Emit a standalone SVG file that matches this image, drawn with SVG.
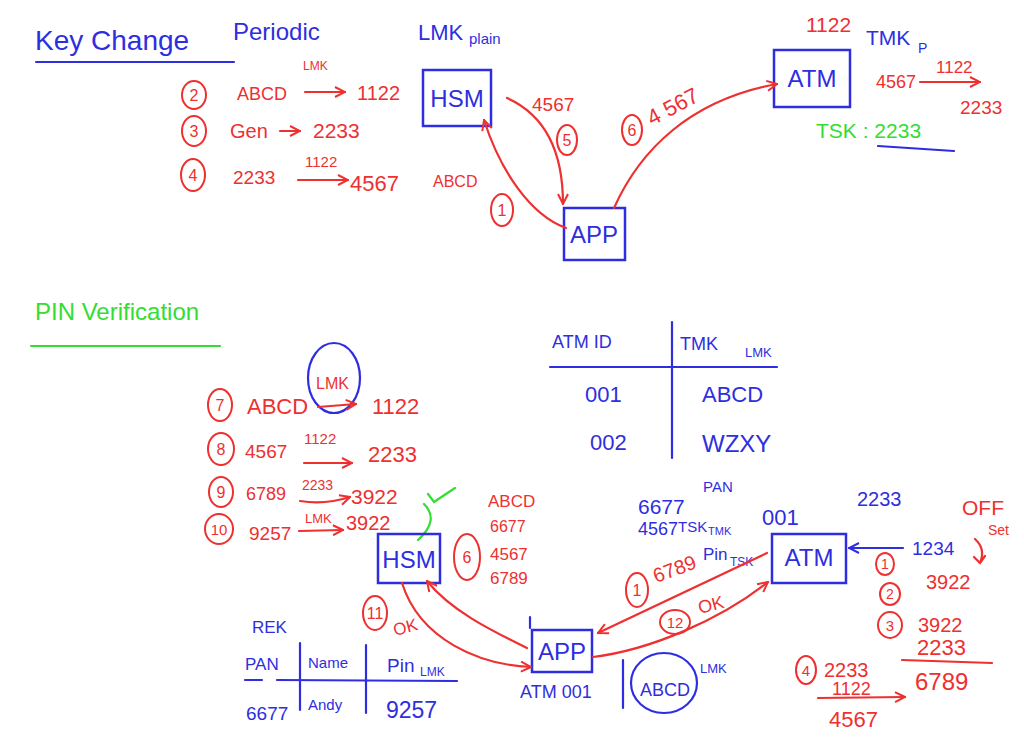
<svg xmlns="http://www.w3.org/2000/svg" width="1024" height="746" viewBox="0 0 1024 746">
<style>
text{font-family:"Liberation Sans","DejaVu Sans",sans-serif}
.b{fill:#2e2ee0}
.r{fill:#ee3030}
.g{fill:#33dd33}
.box{fill:none;stroke:#2e2ee0;stroke-width:2.5}
.rl{fill:none;stroke:#ee3030;stroke-width:2.2;stroke-linecap:round}
.bl{fill:none;stroke:#2e2ee0;stroke-width:2.2;stroke-linecap:round}
.gl{fill:none;stroke:#33dd33;stroke-width:2.2;stroke-linecap:round}
.cn{fill:none;stroke:#ee3030;stroke-width:2}
.nl{font-size:24px;text-anchor:middle}
.m{text-anchor:middle}
</style>
<defs>
<marker id="ar" viewBox="0 0 12 12" refX="11" refY="6" markerWidth="12" markerHeight="12" markerUnits="userSpaceOnUse" orient="auto"><path d="M1,1 L11,6 L1,11" fill="none" stroke="#ee3030" stroke-width="2"/></marker>
<marker id="ab" viewBox="0 0 12 12" refX="11" refY="6" markerWidth="12" markerHeight="12" markerUnits="userSpaceOnUse" orient="auto"><path d="M1,1 L11,6 L1,11" fill="none" stroke="#2e2ee0" stroke-width="2"/></marker>
</defs>
<rect width="1024" height="746" fill="#ffffff"/>

<!-- Titles -->
<g id="titles">
<text x="35" y="50" class="b" font-size="28">Key Change</text>
<path d="M36,62 L234,62" class="bl"/>
<text x="233" y="40" class="b" font-size="24">Periodic</text>
<text x="35" y="320" class="g" font-size="24">PIN Verification</text>
<path d="M31,346 L220,346" class="gl"/>
</g>

<!-- Top section nodes -->
<g id="hsm-top">
<rect x="423" y="70" width="68" height="56" class="box"/>
<text x="457" y="107" class="b nl">HSM</text>
<text x="418" y="40" class="b" font-size="22">LMK</text>
<text x="469" y="44" class="b" font-size="15">plain</text>
</g>
<g id="app-top">
<rect x="564" y="208" width="61" height="52" class="box"/>
<text x="594" y="243" class="b nl">APP</text>
</g>
<g id="atm-top">
<rect x="774" y="50" width="76" height="57" class="box"/>
<text x="812" y="87" class="b nl">ATM</text>
<text x="806" y="32" class="r" font-size="21">1122</text>
<text x="866" y="45" class="b" font-size="21">TMK</text>
<text x="918" y="53" class="b" font-size="14">P</text>
<text x="876" y="88" class="r" font-size="18">4567</text>
<text x="936" y="73" class="r" font-size="17">1122</text>
<text x="960" y="114" class="r" font-size="19">2233</text>
<text x="816" y="138" class="g" font-size="21">TSK : 2233</text>
<path d="M878,146 L954,151" class="bl"/>
</g>

<!-- Top section annotations -->
<g id="top-steps">
<text x="303" y="70" class="r" font-size="12">LMK</text>
<ellipse cx="194" cy="95" rx="12" ry="14" class="cn"/><text x="194" y="101" class="r m" font-size="16">2</text>
<text x="237" y="100" class="r" font-size="18">ABCD</text>
<text x="357" y="100" class="r" font-size="20">1122</text>
<ellipse cx="194" cy="131" rx="12" ry="15" class="cn"/><text x="194" y="137" class="r m" font-size="16">3</text>
<text x="230" y="138" class="r" font-size="20">Gen</text>
<text x="313" y="138" class="r" font-size="21">2233</text>
<ellipse cx="193" cy="175" rx="12" ry="16" class="cn"/><text x="193" y="181" class="r m" font-size="16">4</text>
<text x="233" y="184" class="r" font-size="19">2233</text>
<text x="305" y="167" class="r" font-size="15">1122</text>
<text x="350" y="191" class="r" font-size="22">4567</text>
<text x="433" y="187" class="r" font-size="16">ABCD</text>
<text x="532" y="111" class="r" font-size="19">4567</text>
<ellipse cx="567" cy="140" rx="10" ry="15" class="cn"/><text x="567" y="146" class="r m" font-size="16">5</text>
<ellipse cx="502" cy="210" rx="11" ry="16" class="cn"/><text x="502" y="216" class="r m" font-size="16">1</text>
<ellipse cx="632" cy="130" rx="10" ry="15" class="cn"/><text x="632" y="136" class="r m" font-size="16">6</text>
<text x="652" y="126" class="r" font-size="22" transform="rotate(-28 652 126)">4 567</text>
<path d="M305,92 L345,92" class="rl" marker-end="url(#ar)"/>
<path d="M280,131 L300,131" class="rl" marker-end="url(#ar)"/>
<path d="M298,180 L348,180" class="rl" marker-end="url(#ar)"/>
<path d="M920,82 L980,82" class="rl" marker-end="url(#ar)"/>
</g>

<!-- Top section connectors -->
<g id="connectors-top">
<path d="M566,228 C530,215 500,170 484,120" class="rl" marker-end="url(#ar)"/>
<path d="M507,98 C545,115 563,150 563,204" class="rl" marker-end="url(#ar)"/>
<path d="M614,208 C640,150 690,100 777,84" class="rl" marker-end="url(#ar)"/>
</g>

<!-- ATM ID table -->
<g id="tmk-table">
<text x="552" y="348" class="b" font-size="18">ATM ID</text>
<text x="680" y="350" class="b" font-size="18">TMK</text>
<text x="745" y="357" class="b" font-size="13">LMK</text>
<path d="M672,322 L672,458" class="bl"/>
<path d="M550,367 L777,367" class="bl"/>
<text x="585" y="402" class="b" font-size="22">001</text>
<text x="702" y="402" class="b" font-size="22">ABCD</text>
<text x="590" y="450" class="b" font-size="22">002</text>
<text x="702" y="452" class="b" font-size="24">WZXY</text>
</g>

<!-- Bottom steps -->
<g id="bottom-steps">
<ellipse cx="334" cy="378" rx="26" ry="35" class="bl"/>
<text x="316" y="389" class="r" font-size="16">LMK</text>
<ellipse cx="220" cy="405" rx="12" ry="16" class="cn"/><text x="220" y="411" class="r m" font-size="16">7</text>
<text x="247" y="414" class="r" font-size="22">ABCD</text>
<text x="372" y="414" class="r" font-size="22">1122</text>
<path d="M318,407 L356,404" class="rl" marker-end="url(#ar)"/>
<ellipse cx="221" cy="449" rx="13" ry="16" class="cn"/><text x="221" y="455" class="r m" font-size="16">8</text>
<text x="245" y="458" class="r" font-size="19">4567</text>
<text x="304" y="444" class="r" font-size="15">1122</text>
<path d="M304,463 L352,463" class="rl" marker-end="url(#ar)"/>
<text x="368" y="462" class="r" font-size="22">2233</text>
<ellipse cx="221" cy="492" rx="12" ry="15" class="cn"/><text x="221" y="498" class="r m" font-size="16">9</text>
<text x="246" y="500" class="r" font-size="18">6789</text>
<text x="302" y="490" class="r" font-size="14">2233</text>
<path d="M300,501 Q325,505 350,497" class="rl" marker-end="url(#ar)"/>
<text x="351" y="504" class="r" font-size="21">3922</text>
<path d="M424,504 Q440,520 418,540" class="gl"/>
<path d="M428,494 L434,502 L455,488" class="gl"/>
<ellipse cx="219" cy="529" rx="14" ry="15" class="cn"/><text x="219" y="535" class="r m" font-size="15">10</text>
<text x="249" y="540" class="r" font-size="19">9257</text>
<text x="305" y="523" class="r" font-size="13">LMK</text>
<path d="M299,531 L343,530" class="rl" marker-end="url(#ar)"/>
<text x="346" y="530" class="r" font-size="20">3922</text>
<text x="488" y="507" class="r" font-size="17">ABCD</text>
<text x="490" y="532" class="r" font-size="16">6677</text>
<text x="490" y="560" class="r" font-size="17">4567</text>
<text x="490" y="584" class="r" font-size="17">6789</text>
<ellipse cx="467" cy="557" rx="13" ry="23" class="cn"/><text x="467" y="563" class="r m" font-size="16">6</text>
<ellipse cx="375" cy="613" rx="12" ry="17" class="cn"/><text x="375" y="619" class="r m" font-size="16">11</text>
<text x="395" y="636" class="r" font-size="17" transform="rotate(-15 395 636)">OK</text>
<ellipse cx="637" cy="590" rx="11" ry="17" class="cn"/><text x="637" y="596" class="r m" font-size="16">1</text>
<text x="656" y="583" class="r" font-size="20" transform="rotate(-20 656 583)">6789</text>
<text x="703" y="560" class="b" font-size="17">Pin</text>
<text x="730" y="566" class="b" font-size="12">TSK</text>
<ellipse cx="675" cy="622" rx="15" ry="12" class="cn"/><text x="675" y="628" class="r m" font-size="15">12</text>
<text x="700" y="614" class="r" font-size="18" transform="rotate(-15 700 614)">OK</text>
</g>

<!-- Bottom nodes -->
<g id="hsm-bottom">
<rect x="378" y="534" width="62" height="49" class="box"/>
<text x="409" y="568" class="b nl">HSM</text>
</g>
<g id="app-bottom">
<rect x="532" y="630" width="60" height="42" class="box"/>
<text x="562" y="660" class="b nl">APP</text>
<path d="M530,617 L530,628" class="bl"/>
<text x="520" y="698" class="b" font-size="18">ATM 001</text>
<path d="M623,660 L623,708" class="bl"/>
<ellipse cx="664" cy="683" rx="33" ry="30" class="bl"/>
<text x="640" y="696" class="b" font-size="18">ABCD</text>
<text x="700" y="673" class="b" font-size="13">LMK</text>
</g>
<g id="atm-bottom">
<rect x="772" y="534" width="74" height="49" class="box"/>
<text x="809" y="566" class="b nl">ATM</text>
<text x="638" y="514" class="b" font-size="21">6677</text>
<text x="703" y="492" class="b" font-size="15">PAN</text>
<text x="638" y="535" class="b" font-size="18">4567</text>
<text x="678" y="532" class="b" font-size="15">TSK</text>
<text x="708" y="535" class="b" font-size="11">TMK</text>
<text x="762" y="525" class="b" font-size="22">001</text>
<text x="857" y="506" class="b" font-size="20">2233</text>
<text x="912" y="555" class="b" font-size="19">1234</text>
<text x="962" y="515" class="r" font-size="21">OFF</text>
<text x="988" y="535" class="r" font-size="14">Set</text>
</g>

<!-- Offset calculation -->
<g id="offset-calc">
<path d="M975,539 Q986,549 980,563 M974,557 L980,563 L985,556" class="rl"/>
<ellipse cx="885" cy="564" rx="9" ry="11" class="cn"/><text x="885" y="569" class="r m" font-size="14">1</text>
<text x="926" y="589" class="r" font-size="20">3922</text>
<ellipse cx="890" cy="594" rx="10" ry="11" class="cn"/><text x="890" y="599" class="r m" font-size="14">2</text>
<ellipse cx="890" cy="625" rx="12" ry="13" class="cn"/><text x="890" y="631" class="r m" font-size="15">3</text>
<text x="918" y="632" class="r" font-size="20">3922</text>
<text x="917" y="655" class="r" font-size="22">2233</text>
<path d="M902,660 L992,663" class="rl"/>
<text x="915" y="690" class="r" font-size="24">6789</text>
<ellipse cx="806" cy="670" rx="10" ry="14" class="cn"/><text x="806" y="676" class="r m" font-size="15">4</text>
<text x="824" y="677" class="r" font-size="20">2233</text>
<text x="832" y="695" class="r" font-size="18">1122</text>
<path d="M818,698 L905,697" class="rl" marker-end="url(#ar)"/>
<text x="829" y="727" class="r" font-size="22">4567</text>
</g>

<!-- PAN table -->
<g id="pan-table">
<text x="252" y="633" class="b" font-size="17">REK</text>
<text x="245" y="670" class="b" font-size="17">PAN</text>
<path d="M300,643 L300,710" class="bl"/>
<text x="308" y="668" class="b" font-size="15">Name</text>
<path d="M366,645 L366,713" class="bl"/>
<text x="387" y="672" class="b" font-size="19">Pin</text>
<text x="420" y="676" class="b" font-size="12">LMK</text>
<path d="M245,680 L262,680 M277,680 L457,681" class="bl"/>
<text x="246" y="720" class="b" font-size="19">6677</text>
<text x="308" y="710" class="b" font-size="15">Andy</text>
<text x="386" y="718" class="b" font-size="23">9257</text>
</g>

<!-- Bottom connectors -->
<g id="connectors-bottom">
<path d="M402,583 C420,640 480,665 531,667" class="rl" marker-end="url(#ar)"/>
<path d="M527,648 C490,630 450,610 427,581" class="rl" marker-end="url(#ar)"/>
<path d="M767,553 L598,633" class="rl" marker-end="url(#ar)"/>
<path d="M593,657 C650,650 720,620 768,582" class="rl" marker-end="url(#ar)"/>
<path d="M903,548 L849,548" class="bl" marker-end="url(#ab)"/>
</g>
</svg>
